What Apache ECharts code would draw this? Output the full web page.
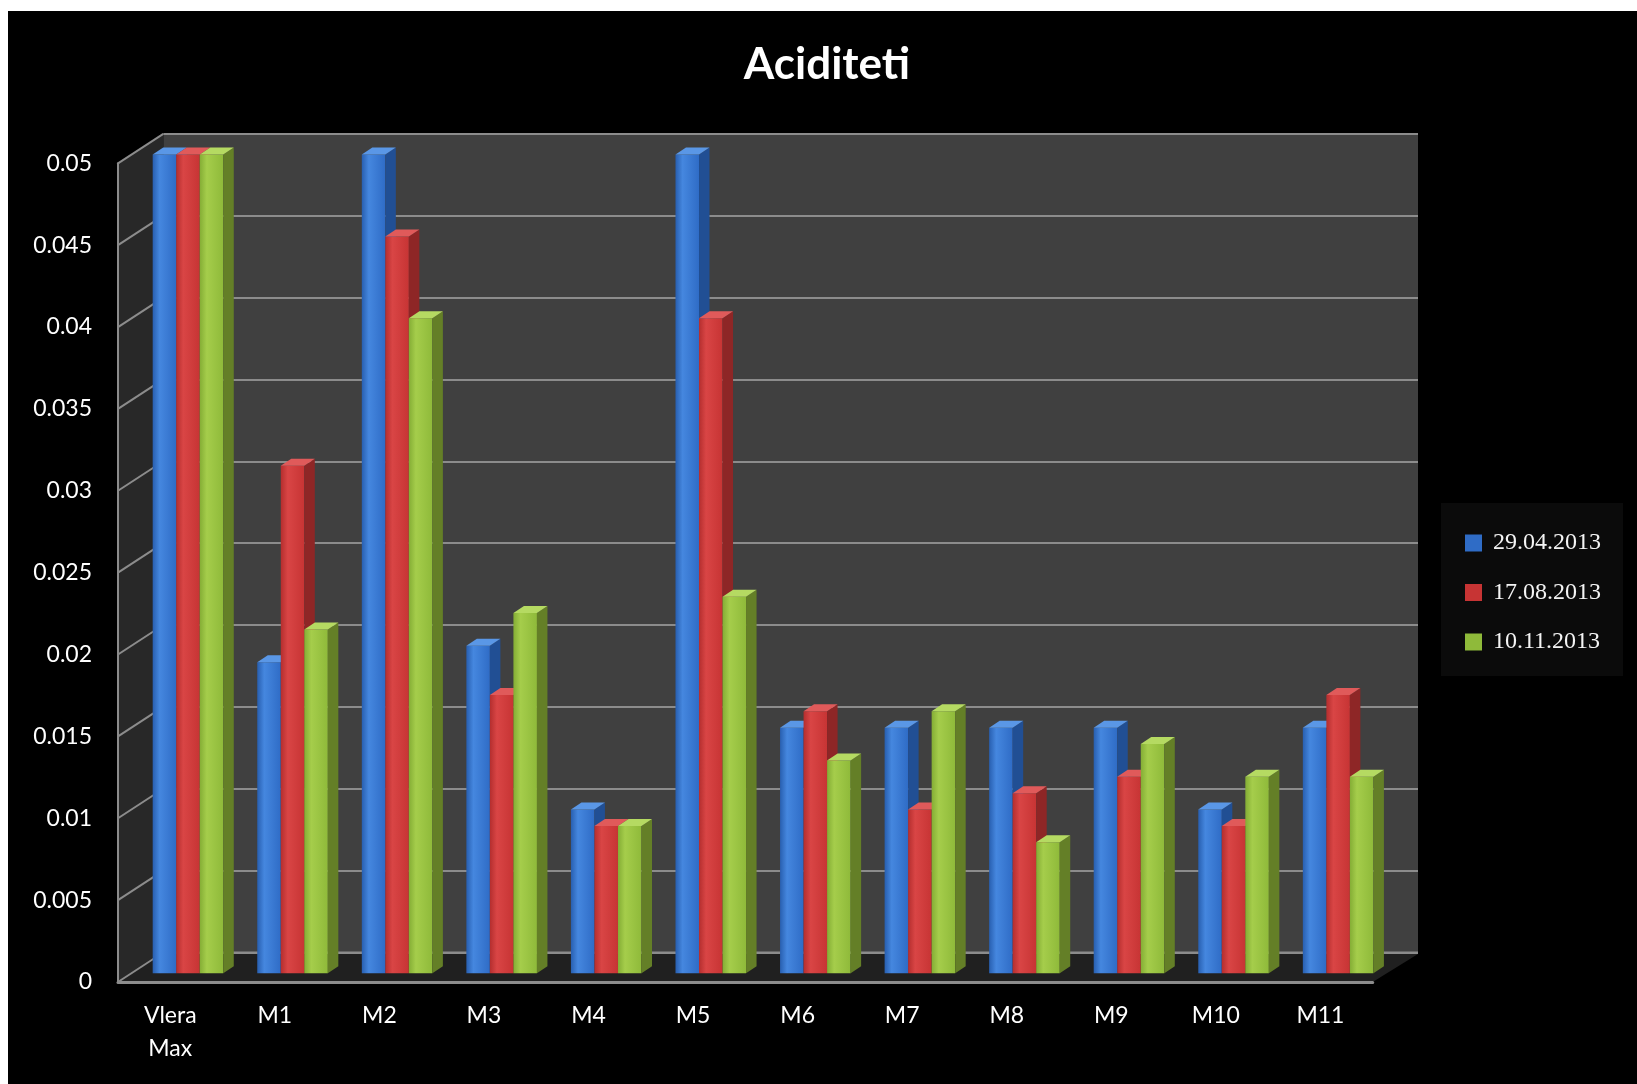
<!DOCTYPE html>
<html>
<head>
<meta charset="utf-8">
<script src="https://cdn.jsdelivr.net/npm/echarts@6/dist/echarts.min.js"></script>
<style>
  html, body { margin: 0; padding: 0; background: #fff; }
  #chart { width: 1637px; height: 1084px; }
</style>
</head>
<body>
<div id="chart"></div>
<script>
const categories = ['Vlera\nMax', 'M1', 'M2', 'M3', 'M4', 'M5', 'M6', 'M7', 'M8', 'M9', 'M10', 'M11'];
const seriesNames = ['29.04.2013', '17.08.2013', '10.11.2013'];
const values1 = [0.05, 0.019, 0.05, 0.02, 0.01, 0.05, 0.015, 0.015, 0.015, 0.015, 0.01, 0.015];
const values2 = [0.05, 0.031, 0.045, 0.017, 0.009, 0.04, 0.016, 0.01, 0.011, 0.012, 0.009, 0.017];
const values3 = [0.05, 0.021, 0.04, 0.022, 0.009, 0.023, 0.013, 0.016, 0.008, 0.014, 0.012, 0.012];
const yMin = 0;
const yMax = 0.05;
const yStep = 0.005;

// 3d box layout (front face, back wall is shifted by depth)
const front = { left: 118, top: 163.3, width: 1254.7, height: 818.7 };
const depth = { dx: 45.3, dy: 29.5 };
const barShift = { dx: 17.7, dy: 8.7 };
const barRatio = 0.225;
const barDepth = { dx: 10.5, dy: 7 };

const colors = [
  { base: '#2f6cc6', light: '#4587df', dark: '#285fb0', side: '#214f94', top: '#5a97e6' },
  { base: '#c73434', light: '#d94545', dark: '#b42e2e', side: '#8e2626', top: '#e05a5a' },
  { base: '#8fba3a', light: '#a5cd4b', dark: '#84ad35', side: '#647f27', top: '#b5da62' }
];

const chart = echarts.init(document.getElementById('chart'));

function renderBar(params, api) {
  const c = colors[params.seriesIndex];
  const cat = api.value(0);
  const base = api.coord([cat, 0]);
  const top = api.coord([cat, api.value(1)]);
  const w = api.size([1, 0])[0] * barRatio;
  const x = base[0] + (params.seriesIndex - 1.5) * w;
  const yT = top[1];
  const yB = base[1];
  const dx = barDepth.dx, dy = barDepth.dy;
  return {
    type: 'group',
    children: [
      {
        type: 'rect',
        shape: { x: x, y: yT, width: w, height: yB - yT },
        style: {
          fill: new echarts.graphic.LinearGradient(0, 0, 1, 0, [
            { offset: 0, color: c.dark },
            { offset: 0.3, color: c.light },
            { offset: 1, color: c.base }
          ])
        }
      },
      {
        type: 'polygon',
        shape: { points: [[x + w, yT], [x + w + dx, yT - dy], [x + w + dx, yB - dy], [x + w, yB]] },
        style: { fill: c.side }
      },
      {
        type: 'polygon',
        shape: { points: [[x, yT], [x + w, yT], [x + w + dx, yT - dy], [x + dx, yT - dy]] },
        style: { fill: c.top }
      }
    ]
  };
}

function makeSeries(name, vals, i) {
  return {
    name: name,
    type: 'custom',
    xAxisIndex: 1,
    yAxisIndex: 1,
    renderItem: renderBar,
    itemStyle: { color: colors[i].base },
    data: vals.map((v, k) => [k, v]),
    z: 3
  };
}

const axisFont = { fontFamily: 'Lato', fontSize: 23, color: '#ffffff' };

const option = {
  backgroundColor: '#000',
  animation: false,
  title: {
    text: 'Aciditeti',
    left: 822,
    top: 38,
    textAlign: 'center',
    textStyle: { fontFamily: 'Lato', fontWeight: 'bold', fontSize: 44, color: '#ffffff' }
  },
  legend: {
    orient: 'vertical',
    left: 1441,
    top: 503,
    backgroundColor: '#0b0b0b',
    padding: [28, 22, 22, 24],
    icon: 'rect',
    itemWidth: 17,
    itemHeight: 17,
    itemGap: 25.5,
    textStyle: { fontFamily: 'Liberation Serif', fontSize: 24, color: '#f4f4f4', padding: [0, 0, 0, 6] },
    data: seriesNames
  },
  grid: [
    {
      left: front.left + depth.dx, top: front.top - depth.dy,
      width: front.width, height: front.height,
      show: true, backgroundColor: '#404040', borderWidth: 0
    },
    {
      left: front.left + barShift.dx, top: front.top - barShift.dy,
      width: front.width, height: front.height
    },
    {
      left: front.left, top: front.top,
      width: front.width, height: front.height
    }
  ],
  xAxis: [
    { gridIndex: 0, type: 'category', data: categories, show: false },
    { gridIndex: 1, type: 'category', data: categories, show: false },
    {
      gridIndex: 2, type: 'category', data: categories,
      axisLine: { show: true, lineStyle: { color: '#8c8c8c', width: 3 } },
      axisTick: { show: false },
      axisLabel: Object.assign({ margin: 17, lineHeight: 33, interval: 0 }, axisFont)
    }
  ],
  yAxis: [
    {
      gridIndex: 0, type: 'value', min: yMin, max: yMax, interval: yStep,
      axisLine: { show: false }, axisTick: { show: false }, axisLabel: { show: false },
      splitLine: { show: true, lineStyle: { color: '#8c8c8c', width: 2 } }
    },
    { gridIndex: 1, type: 'value', min: yMin, max: yMax, interval: yStep, show: false, splitLine: { show: false } },
    {
      gridIndex: 2, type: 'value', min: yMin, max: yMax, interval: yStep,
      axisLine: { show: true, lineStyle: { color: '#8c8c8c', width: 2 } },
      axisTick: { show: false },
      splitLine: { show: false },
      axisLabel: Object.assign({ margin: 26 }, axisFont)
    }
  ],
  series: [
    makeSeries(seriesNames[0], values1, 0),
    makeSeries(seriesNames[1], values2, 1),
    makeSeries(seriesNames[2], values3, 2)
  ]
};

chart.setOption(option);

// left wall, floor and wall gridlines from the axes' own pixel positions
const xL = front.left, xB = front.left + depth.dx;
const ticks = [];
for (let v = yMin; v <= yMax + 1e-9; v += yStep) ticks.push(+v.toFixed(4));
const yF0 = chart.convertToPixel({ yAxisIndex: 2 }, yMin);
const yF1 = chart.convertToPixel({ yAxisIndex: 2 }, yMax);
const yB0 = chart.convertToPixel({ yAxisIndex: 0 }, yMin);
const yB1 = chart.convertToPixel({ yAxisIndex: 0 }, yMax);
const xR = front.left + front.width;

const wallLines = ticks.map(v => ({
  type: 'line',
  z: 1,
  shape: {
    x1: xL, y1: chart.convertToPixel({ yAxisIndex: 2 }, v),
    x2: xB, y2: chart.convertToPixel({ yAxisIndex: 0 }, v)
  },
  style: { stroke: '#8c8c8c', lineWidth: 2 }
}));

chart.setOption({
  graphic: [
    { type: 'rect', z: 10, shape: { x: 0, y: 0, width: 1637, height: 11 }, style: { fill: '#ffffff' } },
    { type: 'rect', z: 10, shape: { x: 0, y: 0, width: 8, height: 1084 }, style: { fill: '#ffffff' } },
    {
      type: 'polygon', z: 0,
      shape: { points: [[xL, yF1], [xB, yB1], [xB, yB0], [xL, yF0]] },
      style: { fill: '#282828' }
    },
    {
      type: 'polygon', z: 0,
      shape: { points: [[xL, yF0], [xB, yB0 + 1.5], [xR + depth.dx, yB0 + 1.5], [xR, yF0]] },
      style: { fill: '#202020' }
    },
    {
      type: 'line', z: 1,
      shape: { x1: xB, y1: yB0, x2: xR + depth.dx, y2: yB0 },
      style: { stroke: '#8c8c8c', lineWidth: 2 }
    }
  ].concat(wallLines)
});
</script>
</body>
</html>
